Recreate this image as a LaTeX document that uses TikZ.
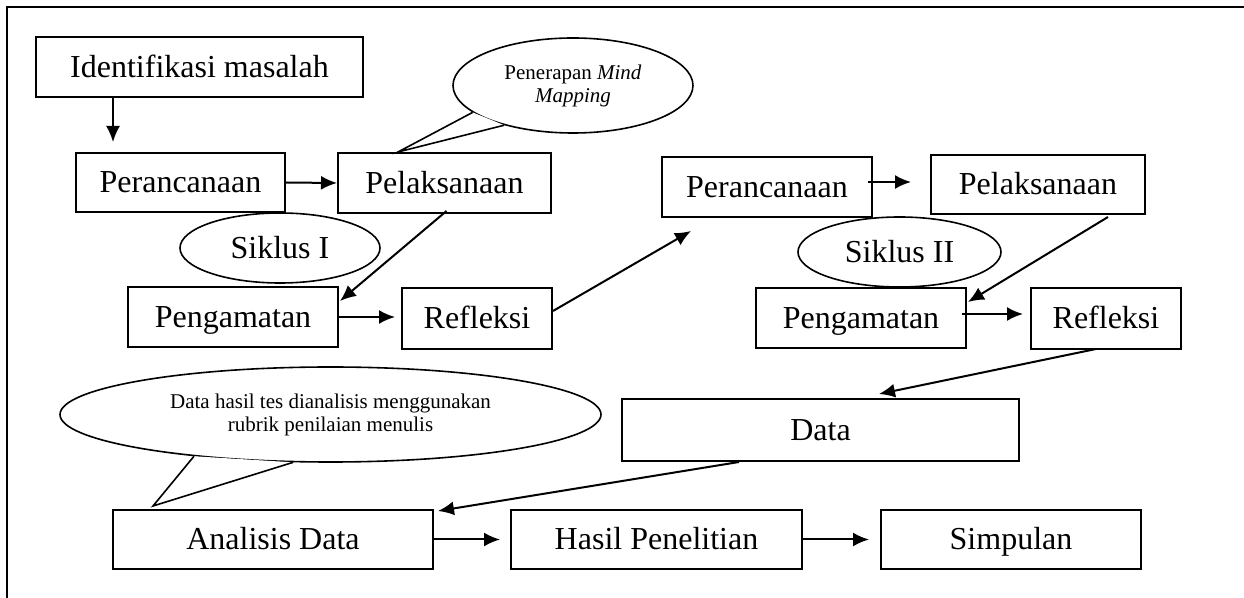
\documentclass[tikz,border=0pt]{standalone}
\usepackage{fontspec}
\setmainfont{Liberation Serif}
\usetikzlibrary{arrows.meta,calc,shapes.geometric}

\begin{document}
\begin{tikzpicture}[
x=0.5pt, y=-0.5pt,
squarednode/.style={rectangle, draw, line width=1pt, inner sep=0pt, text height=14pt, text depth=3.5pt, font=\fontsize{16}{19}\selectfont},
roundnode/.style={ellipse, draw, line width=0.8pt, inner sep=0pt, text height=14pt, text depth=3.5pt, font=\fontsize{16}{19}\selectfont},
callnode/.style={ellipse, draw, line width=0.8pt, inner sep=0pt, align=center, font=\fontsize{10.5}{11.5}\selectfont},
flowline/.style={line width=1pt, arrows={-Latex[length=8pt,width=7pt]}}]
\useasboundingbox (0,0) rectangle (1244,598);
% Frame
\draw[line width=1pt] (7,598) -- (7,7) -- (1244,7);
% Callouts
\node[callnode, minimum width=120pt, minimum height=47.5pt] (mind) at (573,85.5) {Penerapan \textit{Mind}\\\textit{Mapping}};
\node[callnode, minimum width=270.5pt, minimum height=47.5pt] (rubrik) at (330.5,414.5) {Data hasil tes dianalisis menggunakan\\rubrik penilaian menulis};
\coordinate (mindtip) at (398,152);
\coordinate (rubriktip) at (153,506);
\fill[white] (mind.195) -- (mindtip) -- (mind.210) -- cycle;
\draw[line width=0.8pt] (mind.195) -- (mindtip) -- (mind.210);
\fill[white] (rubrik.197) -- (rubriktip) -- (rubrik.232) -- cycle;
\draw[line width=0.8pt] (rubrik.197) -- (rubriktip) -- (rubrik.232);
% Nodes
\node[squarednode, minimum width=163.5pt, minimum height=30pt] (iden) at (199.5,67) {Identifikasi masalah};
\node[squarednode, minimum width=104.5pt, minimum height=29.5pt] (per1) at (180.5,182.5) {Perancanaan};
\node[squarednode, minimum width=106.5pt, minimum height=30pt] (pel1) at (444.5,183) {Pelaksanaan};
\node[roundnode, minimum width=100pt, minimum height=35pt] (sik1) at (280,248) {Siklus I};
\node[squarednode, minimum width=105pt, minimum height=30pt] (pen1) at (233,317) {Pengamatan};
\node[squarednode, minimum width=75pt, minimum height=30.5pt] (ref1) at (477,318.5) {Refleksi};
\node[squarednode, minimum width=105pt, minimum height=30pt] (per2) at (767,187) {Perancanaan};
\node[squarednode, minimum width=107pt, minimum height=29.5pt] (pel2) at (1038,184.5) {Pelaksanaan};
\node[roundnode, minimum width=101.5pt, minimum height=35pt] (sik2) at (899.5,252) {Siklus II};
\node[squarednode, minimum width=105pt, minimum height=30pt] (pen2) at (861,318) {Pengamatan};
\node[squarednode, minimum width=75pt, minimum height=30.5pt] (ref2) at (1106,318.5) {Refleksi};
\node[squarednode, minimum width=198.5pt, minimum height=31pt] (data) at (820.5,430) {Data};
\node[squarednode, minimum width=160pt, minimum height=29.5pt] (anal) at (273,539.5) {Analisis Data};
\node[squarednode, minimum width=145.5pt, minimum height=29.5pt] (hasil) at (656.5,539.5) {Hasil Penelitian};
\node[squarednode, minimum width=130pt, minimum height=29.5pt] (simp) at (1011,539.5) {Simpulan};
% Lines
\draw[flowline] ($(iden.south west)+(78,0)$) -- ($(per1.north west)+(38,-10)$);
\draw[flowline] (per1.east) -- (pel1.west);
\draw[flowline] ($(pel1.south)+(2,-3)$) -- ($(pen1.north east)+(1,15)$);
\draw[flowline] (pen1.east) -- ($(ref1.west)+(-6,-1.5)$);
\draw[flowline] ($(ref1.east)+(0,-7.5)$) -- ($(per2.south west)+(30,13)$);
\draw[flowline] ($(per2.east)+(-5,-5)$) -- ($(pel2.west)+(-19,-2.5)$);
\draw[flowline] ($(pel2.south)+(70,2)$) -- ($(pen2.north east)+(1,15)$);
\draw[flowline] ($(pen2.east)+(-5,-4)$) -- ($(ref2.west)+(-7,-4.5)$);
\draw[flowline] ($(ref2.south)+(-10,-1)$) -- ($(data.north)+(58.5,-4)$);
\draw[flowline] ($(data.south)+(-81.5,0)$) -- ($(anal.north east)+(4,2)$);
\draw[flowline] (anal.east) -- ($(hasil.west)+(-10,0)$);
\draw[flowline] (hasil.east) -- ($(simp.west)+(-11,0)$);
\end{tikzpicture}
\end{document}
